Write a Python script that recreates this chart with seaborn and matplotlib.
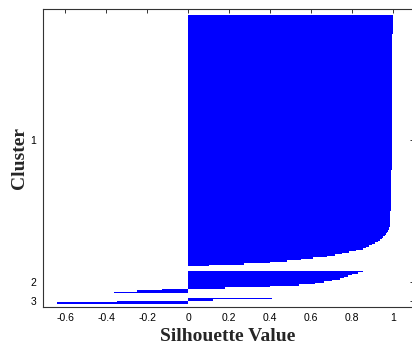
import numpy as np
import pandas as pd
import matplotlib
matplotlib.use('Agg')
import matplotlib.pyplot as plt
import seaborn as sns

# Значения силуэта по кластерам (отсортированы по убыванию)
cluster1 = [
    0.997, 0.997, 0.997, 0.997, 0.997, 0.997, 0.997, 0.997, 0.997, 0.997,
    0.997, 0.997, 0.997, 0.996, 0.996, 0.996, 0.996, 0.996, 0.996, 0.996,
    0.996, 0.996, 0.996, 0.996, 0.996, 0.996, 0.996, 0.996, 0.996, 0.996,
    0.996, 0.995, 0.995, 0.995, 0.995, 0.995, 0.995, 0.995, 0.995, 0.995,
    0.995, 0.995, 0.995, 0.995, 0.995, 0.995, 0.995, 0.995, 0.995, 0.995,
    0.995, 0.995, 0.995, 0.995, 0.994, 0.994, 0.994, 0.994, 0.994, 0.994,
    0.994, 0.994, 0.994, 0.994, 0.994, 0.994, 0.994, 0.994, 0.994, 0.994,
    0.994, 0.994, 0.993, 0.993, 0.993, 0.993, 0.993, 0.993, 0.993, 0.993,
    0.993, 0.993, 0.993, 0.993, 0.993, 0.993, 0.993, 0.993, 0.993, 0.993,
    0.993, 0.993, 0.993, 0.992, 0.992, 0.992, 0.992, 0.992, 0.992, 0.992,
    0.992, 0.992, 0.992, 0.992, 0.991, 0.991, 0.991, 0.991, 0.991, 0.991,
    0.991, 0.990, 0.990, 0.990, 0.990, 0.990, 0.989, 0.989, 0.989, 0.989,
    0.989, 0.989, 0.988, 0.988, 0.988, 0.988, 0.987, 0.987, 0.987, 0.987,
    0.987, 0.986, 0.986, 0.986, 0.986, 0.985, 0.985, 0.985, 0.985, 0.985,
    0.984, 0.982, 0.980, 0.978, 0.974, 0.970, 0.965, 0.958, 0.952, 0.944,
    0.935, 0.925, 0.912, 0.898, 0.882, 0.868, 0.852, 0.820, 0.785, 0.750,
    0.715, 0.675, 0.610, 0.550, 0.480, 0.400, 0.270, 0.100,
]
cluster2 = [0.85, 0.83, 0.80, 0.78, 0.76, 0.74, 0.70, 0.66, 0.62, 0.54,
            0.40, 0.18, -0.13, -0.25, -0.36]
cluster3 = [0.41, 0.12, -0.35, -0.64]
cluster_names = ['1', '2', '3']

xtick_values = [-0.6, -0.4, -0.2, 0, 0.2, 0.4, 0.6, 0.8, 1]
xtick_labels = ['-0.6', '-0.4', '-0.2', '0', '0.2', '0.4', '0.6', '0.8', '1']

# Собираем таблицу позиций, как в silhouette() из MATLAB (промежутки между кластерами)
space = 3
frames = []
ticks = []
pos = space + 1
for name, vals in zip(cluster_names, [cluster1, cluster2, cluster3]):
    ys = pos + np.arange(len(vals))
    frames.append(pd.DataFrame({'pos': ys, 'value': vals, 'cluster': name}))
    ticks.append((ys[0] + ys[-1]) / 2)
    pos = ys[-1] + 1 + space
df = pd.concat(frames, ignore_index=True)
y_bottom = df['pos'].max() + 0.5 + 2

sns.set_style('white')
plt.rcParams['font.family'] = ['Liberation Sans', 'DejaVu Sans']

fig = plt.figure(figsize=(4.12, 3.46), dpi=100)
ax = fig.add_axes([0.1032, 0.1136, 0.9012, 0.8595])

sns.barplot(data=df, x='value', y='pos', orient='h', native_scale=True,
            width=1, color='#0000ff', saturation=1, linewidth=0,
            errorbar=None, ax=ax)
# без сглаживания, чтобы между соседними полосками не было щелей
for p in ax.patches:
    p.set_antialiased(False)

ax.set_xlim(-0.711, 1.1)
ax.set_ylim(y_bottom, 0)
ax.set_xticks(xtick_values, xtick_labels)
ax.set_yticks(ticks, cluster_names)
ax.tick_params(direction='in', length=2.7, width=0.7, color='#333333',
               top=True, right=True, labeltop=False, labelright=False,
               labelsize=7.5, labelcolor='black', pad=4.5)
for sp in ax.spines.values():
    sp.set_visible(True)
    sp.set_color('#333333')
    sp.set_linewidth(0.8)

ax.set_xlabel('Silhouette Value', fontfamily='Liberation Serif',
              fontweight='bold', fontsize=14, labelpad=3.5)
ax.set_ylabel('Cluster', fontfamily='Liberation Serif',
              fontweight='bold', fontsize=14, labelpad=2)

fig.savefig('out.png', dpi=100)
